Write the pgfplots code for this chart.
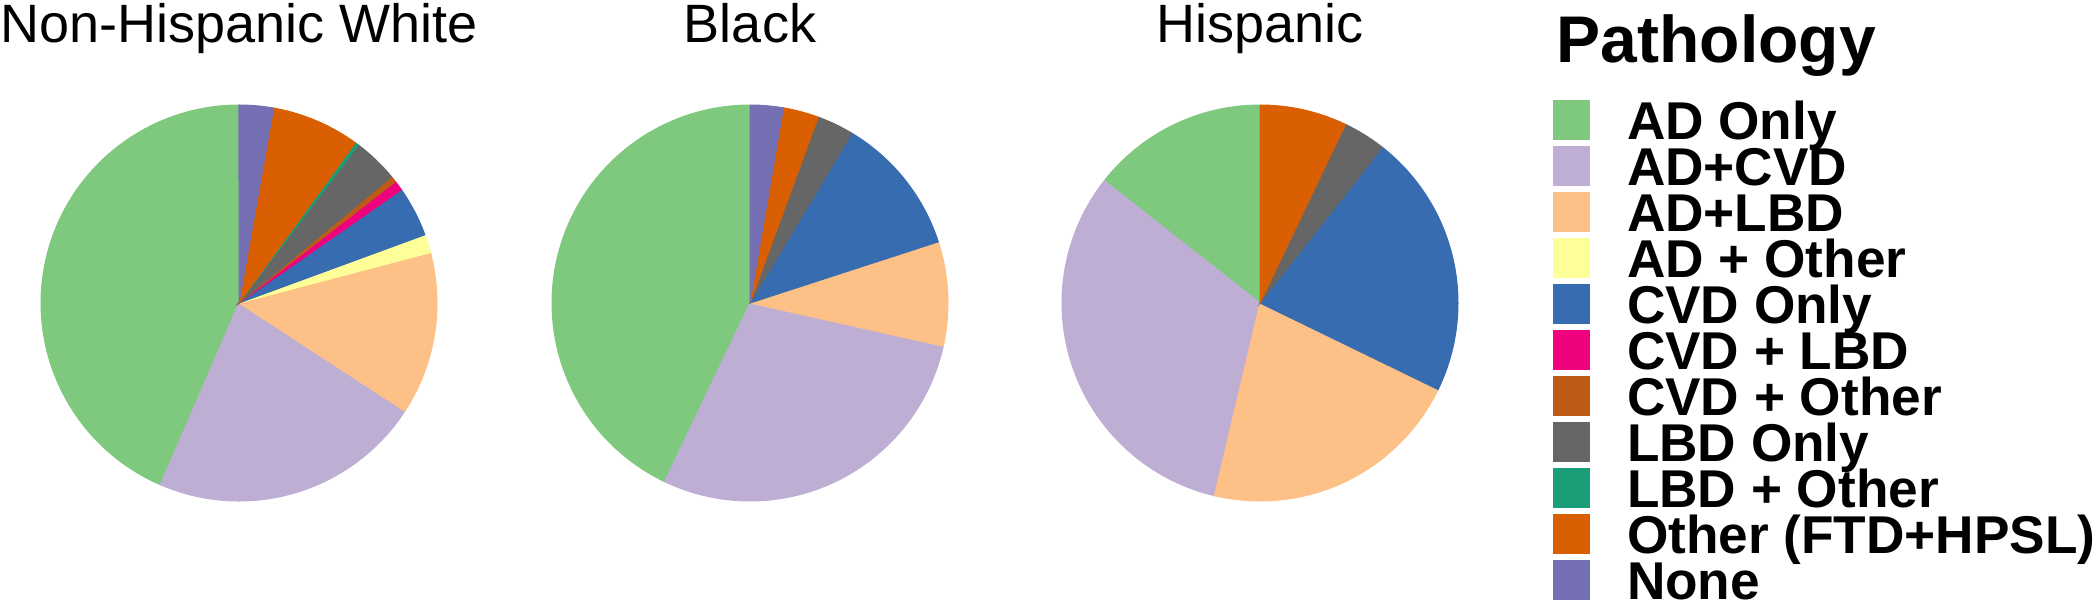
\documentclass[border=0pt]{standalone}
\usepackage{pgfplots}
\pgfplotsset{compat=1.18}
\usepackage{fontspec}
\setmainfont{Liberation Sans}

\definecolor{cADonly}{HTML}{7FC97F}
\definecolor{cADCVD}{HTML}{BEAED4}
\definecolor{cADLBD}{HTML}{FDC086}
\definecolor{cADOther}{HTML}{FFFF99}
\definecolor{cCVDonly}{HTML}{386CB0}
\definecolor{cCVDLBD}{HTML}{F0027F}
\definecolor{cCVDOther}{HTML}{BF5B17}
\definecolor{cLBDonly}{HTML}{666666}
\definecolor{cLBDOther}{HTML}{1B9E77}
\definecolor{cOther}{HTML}{D95F02}
\definecolor{cNone}{HTML}{7570B3}

% #1 centre x (px), #2 centre y (px), #3 list of percent/colour in legend order
\newcommand\piechart[3]{%
  \gdef\cumA{0}%
  \foreach \v/\c in {#3}{%
    \pgfmathsetmacro\a{\cumA}%
    \pgfmathsetmacro\b{\cumA+\v*3.6}%
    \xdef\cumA{\b}%
    \edef\temp{\noexpand\addplot[fill=\c, draw=\c, line width=0.25pt,
      domain=\a:\b, samples=80, variable=\noexpand\t]
      ({#1-198*sin(\noexpand\t)},{#2-198*cos(\noexpand\t)}) -- (axis cs:#1,#2) -- cycle;}%
    \temp
  }%
}

\begin{document}
\begin{tikzpicture}
\useasboundingbox (0,0) rectangle (525pt,150.5pt);
\begin{axis}[
  at={(0,0)}, anchor=south west,
  width=525pt, height=150.5pt, scale only axis,
  xmin=0, xmax=2100, ymin=0, ymax=602, y dir=reverse,
  enlargelimits=false, hide axis, clip=false,
  legend cell align=left,
  legend image code/.code={\fill[#1] (0pt,-4.875pt) rectangle (9pt,4.875pt);},
  legend style={at={(axis cs:1553,100)}, anchor=north west,
    draw=none, fill=none, inner sep=0pt, outer sep=0pt,
    row sep=1.5pt, column sep=9.25pt,
    font=\bfseries\fontsize{13.3}{13.3}\selectfont,
    nodes={inner sep=0pt, text height=9.6pt, text depth=0pt}},
]
% Non-Hispanic White
\piechart{239}{303}{43.5/cADonly, 22.3/cADCVD, 13.3/cADLBD, 1.5/cADOther, 4.1/cCVDonly, 0.8/cCVDLBD, 0.5/cCVDOther, 3.7/cLBDonly, 0.3/cLBDOther, 7.2/cOther, 2.8/cNone}
% Black
\piechart{750}{303}{42.9/cADonly, 28.6/cADCVD, 8.5/cADLBD, 11.4/cCVDonly, 3.0/cLBDonly, 2.9/cOther, 2.7/cNone}
% Hispanic
\piechart{1260}{303}{14.4/cADonly, 31.9/cADCVD, 21.5/cADLBD, 21.6/cCVDonly, 3.5/cLBDonly, 7.1/cOther}

\legend{AD Only, AD+CVD, AD+LBD, AD + Other, CVD Only, CVD + LBD, CVD + Other, LBD Only, LBD + Other, Other (FTD+HPSL), None}

\node[anchor=base, font=\fontsize{13.5}{13.5}\selectfont] at (axis cs:239,42) {Non-Hispanic White};
\node[anchor=base, font=\fontsize{13.5}{13.5}\selectfont] at (axis cs:750,42) {Black};
\node[anchor=base, font=\fontsize{13.5}{13.5}\selectfont] at (axis cs:1260,42) {Hispanic};
\node[anchor=base west, inner sep=0pt, font=\bfseries\fontsize{16.5}{16.5}\selectfont] at (axis cs:1556,62) {Pathology};
\end{axis}
\end{tikzpicture}
\end{document}
